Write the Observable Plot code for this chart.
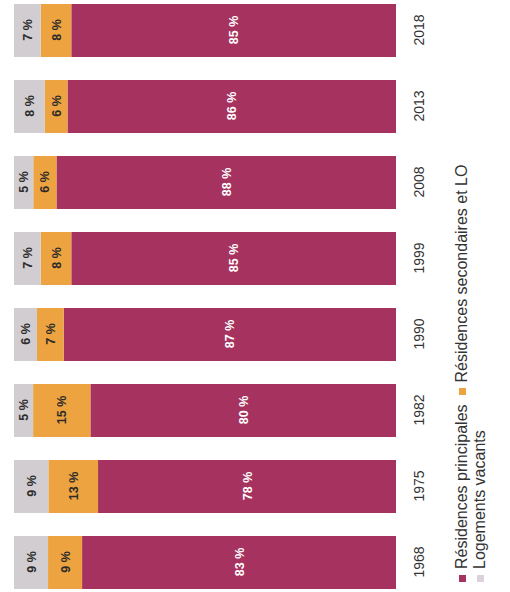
<!DOCTYPE html>
<html>
<head>
<meta charset="utf-8">
<script src="https://cdn.jsdelivr.net/npm/d3@7"></script>
<script src="https://cdn.jsdelivr.net/npm/@observablehq/plot@0.6"></script>
<style>
  html, body { margin: 0; padding: 0; background: #fff; }
  body { width: 510px; height: 592px; overflow: hidden; position: relative; }
  #wrap {
    position: absolute; left: 0; top: 0; width: 592px; height: 510px;
    transform-origin: 0 0; transform: translate(0, 592px) rotate(-90deg);
    font-family: "Liberation Sans", Arial, sans-serif;
  }
  #legend { padding-top: 13px; padding-left: 10px; font-size: 16px; color: #333; line-height: 18px; }
  #legend .row { display: flex; align-items: center; white-space: nowrap; }
  #legend .sw { display: inline-block; width: 7px; height: 7px; margin-right: 6px; }
  #legend .gap { margin-left: 9px; }
</style>
</head>
<body>
<div id="wrap"><div id="chart"></div><div id="legend"></div></div>
<script>
const years = ["1968", "1975", "1982", "1990", "1999", "2008", "2013", "2018"];
const categories = ["Résidences principales", "Résidences secondaires et LO", "Logements vacants"];
const residencesPrincipales = [83, 78, 80, 87, 85, 88, 86, 85];
const residencesSecondaires = [9, 13, 15, 7, 8, 6, 6, 8];
const logementsVacants = [9, 9, 5, 6, 7, 5, 8, 7];
const colors = ["#a6335f", "#eda33f", "#d1cdd0"];
const legendColors = ["#a6335f", "#eda33f", "#dcd2db"];
const labelColors = ["#ffffff", "#2b2b2b", "#2b2b2b"];

const series = [residencesPrincipales, residencesSecondaires, logementsVacants];
const data = [];
categories.forEach((cat, ci) => {
  years.forEach((y, yi) => data.push({year: y, cat, value: series[ci][yi], ci}));
});

const stackOpts = {x: "year", y: "value", z: "cat", offset: "normalize", order: categories};

const plot = Plot.plot({
  width: 592,
  height: 440,
  marginLeft: 3,
  marginRight: 3,
  marginTop: 14,
  marginBottom: 44,
  style: {fontFamily: "Liberation Sans, Arial, sans-serif", background: "transparent"},
  x: {domain: years, paddingInner: 0.3, paddingOuter: 0, label: null},
  y: {domain: [0, 1], axis: null},
  color: {domain: categories, range: colors},
  marks: [
    Plot.barY(data, Plot.stackY({...stackOpts, fill: "cat"})),
    Plot.text(data, Plot.stackY({
      ...stackOpts,
      text: d => d.value + " %",
      fill: d => labelColors[d.ci],
      fontWeight: "bold",
      fontSize: 12.5
    })),
    Plot.axisX({tickSize: 0, tickPadding: 18, fontSize: 14, color: "#333", label: null})
  ]
});
document.getElementById("chart").appendChild(plot);

const legend = document.getElementById("legend");
const rows = [[0, 1], [2]];
rows.forEach(r => {
  const row = document.createElement("div");
  row.className = "row";
  r.forEach((ci, k) => {
    const sw = document.createElement("span");
    sw.className = "sw" + (k > 0 ? " gap" : "");
    sw.style.background = legendColors[ci];
    row.appendChild(sw);
    const t = document.createElement("span");
    t.textContent = categories[ci];
    row.appendChild(t);
  });
  legend.appendChild(row);
});
</script>
</body>
</html>
